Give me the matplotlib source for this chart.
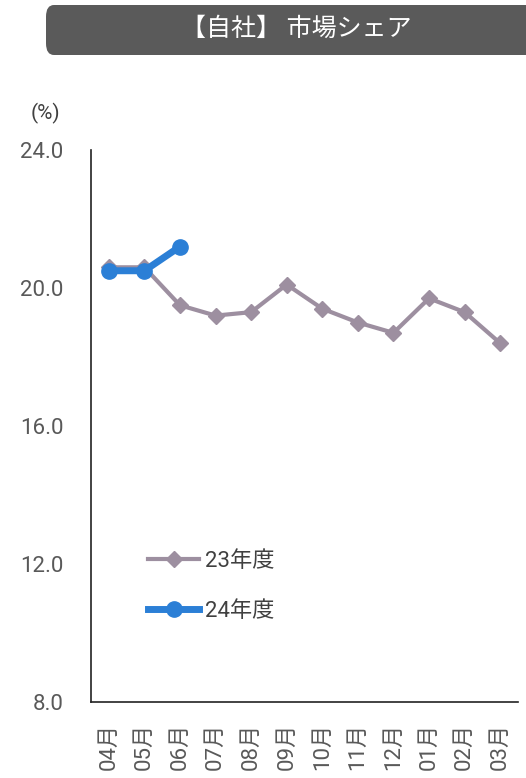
import matplotlib
matplotlib.use("Agg")
import matplotlib.pyplot as plt
from matplotlib.patches import FancyBboxPatch

plt.rcParams["font.family"] = ["Roboto", "Noto Sans CJK JP", "DejaVu Sans"]

months = ["04月", "05月", "06月", "07月", "08月", "09月", "10月", "11月", "12月", "01月", "02月", "03月"]
fy23 = [20.6, 20.6, 19.5, 19.2, 19.3, 20.1, 19.4, 19.0, 18.7, 19.7, 19.3, 18.4]
fy24 = [20.5, 20.5, 21.2]
yticks = [8.0, 12.0, 16.0, 20.0, 24.0]

W, H = 526, 778
fig = plt.figure(figsize=(W / 100, H / 100), dpi=100)
ax = fig.add_axes([91 / W, 1 - 702 / H, (518 - 91) / W, (702 - 150) / H])

x = list(range(len(months)))
ax.plot(x, fy23, color="#9d8fa0", lw=3, marker="D", ms=8, label="23年度", zorder=2)
ax.plot(x[:len(fy24)], fy24, color="#2b7fd6", lw=5, marker="o", ms=11, label="24年度", zorder=3)

ax.set_xlim(-0.5, 11.5)
ax.set_ylim(8, 24)
ax.set_yticks(yticks)
ax.set_yticklabels([f"{v:.1f}" for v in yticks])
ax.set_xticks(x)
ax.set_xticklabels(months, rotation=90)
ax.tick_params(length=0, labelsize=16, colors="#595959")
ax.tick_params(axis="y", pad=20)
ax.tick_params(axis="x", pad=15)
for s in ("top", "right"):
    ax.spines[s].set_visible(False)
for s in ("left", "bottom"):
    ax.spines[s].set_color("#222222")
    ax.spines[s].set_linewidth(1.2)

ax.legend(loc="center left", bbox_to_anchor=(0.087, 0.21), frameon=False, fontsize=16,
          labelcolor="#404040", handlelength=2.3, handletextpad=0.25, labelspacing=1.3)

fig.text(45 / W, 1 - 113 / H, "(%)", fontsize=15, color="#404040", va="center", ha="center")

banner = FancyBboxPatch((46 / W, 1 - 55 / H), 0.95, 50 / H,
                        boxstyle="round,pad=0,rounding_size=0.015",
                        transform=fig.transFigure, facecolor="#5a5a5a", edgecolor="none")
fig.patches.append(banner)
fig.text(296 / W, 1 - 29 / H, "【自社】 市場シェア", fontsize=18, color="white",
         ha="center", va="center", family=["Noto Sans CJK JP", "DejaVu Sans"])

fig.savefig("out.png", dpi=100)
